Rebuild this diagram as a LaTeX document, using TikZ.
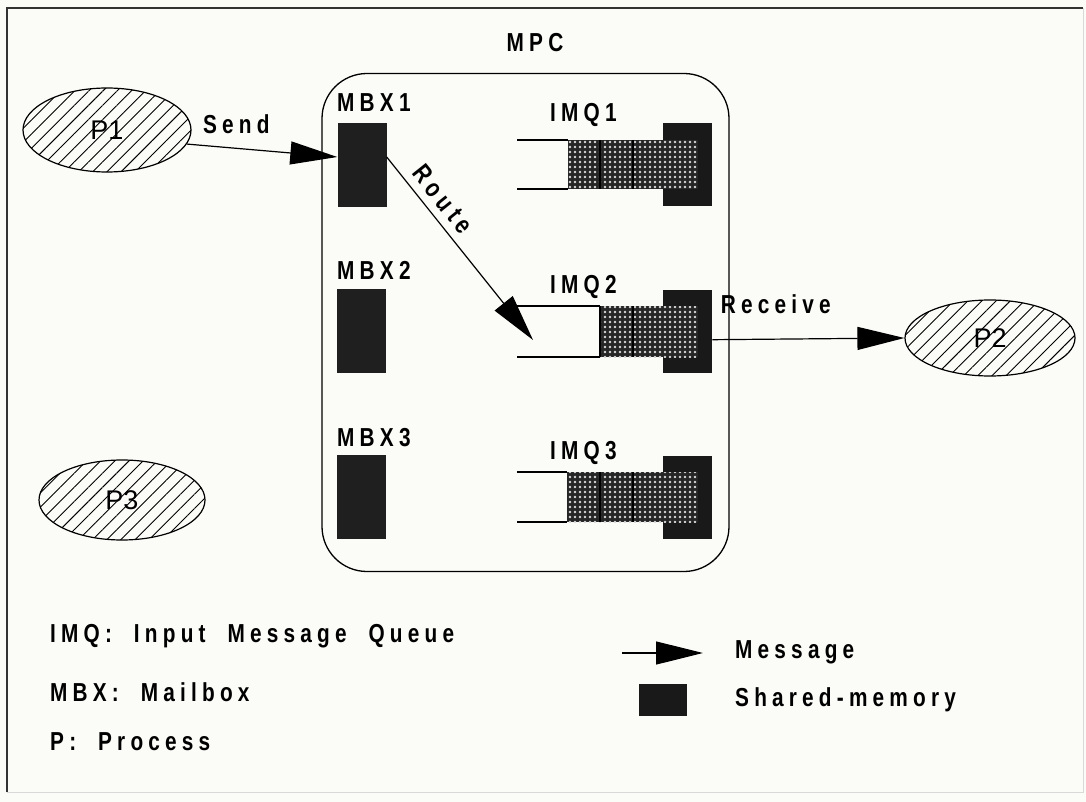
\documentclass[tikz,border=0pt]{standalone}
\usepackage{fontspec}
\setmainfont{Liberation Sans}
\newfontfamily\lblfont{Liberation Sans}[LetterSpace=20,FakeStretch=0.8,WordSpace=2]
\usetikzlibrary{arrows.meta,shapes.geometric,patterns.meta}
\definecolor{bgc}{RGB}{251,251,247}
\tikzset{
  lbl/.style={font={\lblfont\bfseries\fontsize{26}{30}\selectfont}, inner sep=0pt},
  proc/.style={ellipse, draw, line width=1.2pt, inner sep=0pt,
    pattern={Lines[angle=45,distance=10pt,line width=0.9pt]},
    font={\fontsize{27}{30}\selectfont}},
  mbxbox/.style={fill=black!88, minimum width=49pt, minimum height=84pt, inner sep=0pt},
  shm/.style={fill=black!90, minimum width=49pt, minimum height=83pt, inner sep=0pt},
  msg/.style={line width=1.2pt, -{Triangle[length=47pt,width=23pt]}},
  qline/.style={line width=1.2pt}
}
\begin{document}
\begin{tikzpicture}[x=1pt,y=-1pt]
\useasboundingbox (0,0) rectangle (1086,802);
\fill[bgc] (0,0) rectangle (1086,802);
\draw[line width=1.6pt, black!80] (7,792) -- (7,8) -- (1083,8);
\draw[line width=0.8pt, black!15] (1083,8) -- (1083,792) -- (7,792);

% title and MPC box
\node[lbl] (mpc) at (535,43) {MPC};
\node[draw, line width=1.3pt, rounded corners=45pt, minimum width=407pt,
      minimum height=498pt, inner sep=0pt] (mpcbox) at (525.5,322.5) {};

% processes
\node[proc, minimum width=168pt, minimum height=84pt] (p1) at (107,130) {P1};
\node[proc, minimum width=170pt, minimum height=76pt] (p2) at (990,338) {P2};
\node[proc, minimum width=166pt, minimum height=80pt] (p3) at (122,500) {P3};

% mailboxes
\node[mbxbox] (mbx1) at (362,165) {};
\node[mbxbox] (mbx2) at (361.5,331) {};
\node[mbxbox] (mbx3) at (361,496.5) {};
\node[lbl, anchor=west] (lmbx1) at (337,103) {MBX1};
\node[lbl, anchor=west] (lmbx2) at (337,270) {MBX2};
\node[lbl, anchor=west] (lmbx3) at (337,438) {MBX3};

% input message queues
\foreach \t/\b/\s/\bt/\n/\ly in {140/189/568/123/1/115, 306/357/600/290/2/287, 472/522/567/456/3/453}{
  \node[shm, anchor=north west] (imq\n) at (663,\bt) {};
  \fill[black!85] (\s,\t) rectangle (698,\b);
  \fill[pattern={Dots[distance=5pt,radius=1.3pt]}, pattern color=white!85!black] (\s,\t) rectangle (698,\b);
  \draw[black, line width=1.2pt] (600,\t) -- (600,\b) (633,\t) -- (633,\b);
  \draw[qline] (517,\t) -- (\s,\t) (517,\b) -- (\s,\b);
  \node[lbl, anchor=west] (limq\n) at (550,\ly) {IMQ\n};
}
\coordinate (imq2in) at (533,340);

% messages
\draw[msg] (p1.-10) -- node[lbl, pos=0.33, above=14pt] (send) {Send} ([yshift=8pt]mbx1.west);
\draw[msg] ([yshift=8pt]mbx1.east) -- node[lbl, sloped, pos=0.29, above=8pt] (route) {Route} (imq2in);
\draw[msg] ([yshift=-8pt]imq2.east) -- node[lbl, pos=0.33, above=25pt] (recv) {Receive} (p2.west);

% legend
\node[lbl, anchor=west] (leg1) at (50,636) {IMQ: Input Message Queue};
\node[lbl, anchor=west] (leg2) at (50,692) {MBX: Mailbox};
\node[lbl, anchor=west] (leg3) at (50,742) {P: Process};
\coordinate (la) at (622,653);
\coordinate (lb) at (703,653);
\draw[msg] (la) -- (lb);
\node[fill=black!90, minimum width=48pt, minimum height=32pt, inner sep=0pt] (lsq) at (663,700) {};
\node[lbl, anchor=west] (lmsg) at (735,652) {Message};
\node[lbl, anchor=west] (lshm) at (735,700) {Shared-memory};
\end{tikzpicture}
\end{document}
